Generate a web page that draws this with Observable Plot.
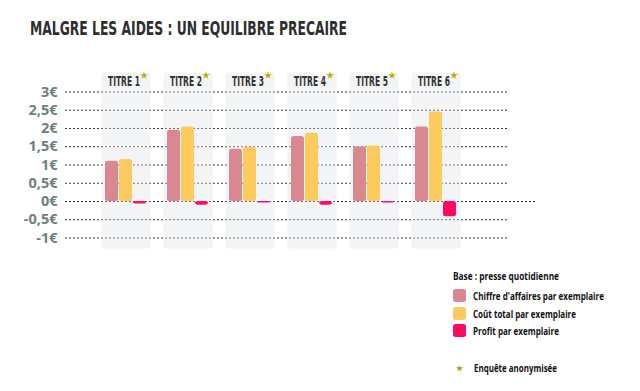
<!DOCTYPE html>
<html>
<head>
<meta charset="utf-8">
<script src="https://cdn.jsdelivr.net/npm/d3@7"></script>
<script src="https://cdn.jsdelivr.net/npm/@observablehq/plot@0.6"></script>
<style>
  html, body { margin: 0; padding: 0; background: #fff; width: 640px; height: 391px; overflow: hidden; position: relative; }
  #title { position: absolute; left: 30px; top: 19px; font-family: "DejaVu Sans", sans-serif; font-weight: bold; font-size: 19px; line-height: 19px; color: #2e2e2e; white-space: nowrap; transform-origin: left top; }
  .layer { position: absolute; left: 0; top: 50px; }
  #legend { position: absolute; left: 453px; top: 269px; font-family: "Open Sans", sans-serif; font-weight: bold; font-size: 11px; color: #111; }
  #legend .head { position: absolute; left: 0; top: 0; white-space: nowrap; line-height: 13px; }
  #legend .row { position: absolute; left: 0; white-space: nowrap; height: 13px; display: flex; align-items: center; }
  #legend .sw { width: 13px; height: 13px; border-radius: 2.5px; margin-right: 7px; flex: none; }
  #legend .star { width: 13px; text-align: center; color: #b8a400; font-size: 8px; margin-right: 8px; flex: none; }
  .fit { display: inline-block; transform-origin: left center; }
</style>
</head>
<body>
<div id="title"><span class="fit" data-w="317">MALGRE LES AIDES : UN EQUILIBRE PRECAIRE</span></div>
<div id="back" class="layer"></div>
<div id="front" class="layer"></div>
<div id="legend"></div>
<script>
const titres = ["TITRE 1", "TITRE 2", "TITRE 3", "TITRE 4", "TITRE 5", "TITRE 6"];
const series = ["Chiffre d'affaires par exemplaire", "Coût total par exemplaire", "Profit par exemplaire"];
const seriesColors = ["#d98891", "#fdca5e", "#ff0a62"];
const chiffreAffaires = [1.10, 1.95, 1.43, 1.78, 1.49, 2.04];
const coutTotal = [1.15, 2.04, 1.48, 1.87, 1.52, 2.45];
const profit = [-0.07, -0.10, -0.04, -0.10, -0.04, -0.42];
const anonymise = [true, true, true, true, true, true];
const yTicks = [3, 2.5, 2, 1.5, 1, 0.5, 0, -0.5, -1];
const yTickLabels = ["3€", "2,5€", "2€", "1,5€", "1€", "0,5€", "0€", "-0,5€", "-1€"];
const legendTitle = "Base : presse quotidienne";
const legendNote = "Enquête anonymisée";

const rows = [];
titres.forEach((t, i) => {
  rows.push({titre: t, serie: series[0], value: chiffreAffaires[i]});
  rows.push({titre: t, serie: series[1], value: coutTotal[i]});
  rows.push({titre: t, serie: series[2], value: profit[i]});
});
const cols = titres.map((t, i) => ({titre: t, star: anonymise[i]}));
const ticks = yTicks.map((v, i) => ({v, label: yTickLabels[i]}));
const gridTicks = yTicks.filter(v => v !== 0);

const common = {
  width: 640,
  height: 341,
  marginLeft: 65,
  marginRight: 132,
  marginTop: 22,
  marginBottom: 143,
  style: {background: "transparent", overflow: "visible"},
  y: {domain: [-1.288, 3.534], axis: null}
};

// Back layer: continuous dotted grid and y tick labels
const back = Plot.plot({
  ...common,
  x: {axis: null},
  marks: [
    Plot.ruleY(gridTicks, {y: d => d, stroke: "#333", strokeWidth: 1, strokeDasharray: "2,2"}),
    Plot.ruleY([0], {stroke: "#222", strokeWidth: 1, strokeDasharray: "2,2", insetRight: -29}),
    Plot.text(ticks, {y: "v", text: "label", frameAnchor: "left", textAnchor: "end", lineAnchor: "middle", dx: -8, fill: "#6e8080", fontSize: 14.5, fontWeight: 700, fontFamily: "Open Sans, sans-serif"})
  ]
});
document.getElementById("back").appendChild(back);

// Front layer: column backgrounds, grouped bars, labels
const front = Plot.plot({
  ...common,
  fx: {domain: titres, paddingInner: 0.208, paddingOuter: 0.648, align: 0.432, axis: null},
  x: {domain: series, paddingInner: 0.04, paddingOuter: 0.22, axis: null},
  color: {domain: series, range: seriesColors},
  marks: [
    Plot.frame({fill: "#dfe3e8", fillOpacity: 0.4, stroke: null, rx: 3}),
    Plot.barY(rows, {fx: "titre", x: "serie", y: "value", fill: "serie", rx: 2.5}),
    Plot.text(cols, {fx: "titre", text: "titre", frameAnchor: "top", lineAnchor: "middle", dy: 9, dx: -2, fill: "#333", fontSize: 14, fontWeight: 700, fontFamily: "DejaVu Sans, sans-serif"}),
    Plot.dot(cols.filter(d => d.star), {fx: "titre", frameAnchor: "top", dx: 18, dy: 3, symbol: "star", r: 2.4, fill: "#c2ab00", stroke: null})
  ]
});
document.getElementById("front").appendChild(front);

// squeeze column labels to the narrow width of the original face
front.querySelectorAll("text").forEach(t => {
  if (titres.includes(t.textContent)) {
    t.setAttribute("textLength", 32);
    t.setAttribute("lengthAdjust", "spacingAndGlyphs");
  }
});

// Legend
const legend = document.getElementById("legend");
const head = document.createElement("div");
head.className = "head";
head.innerHTML = `<span class="fit" data-w="106"></span>`;
head.firstChild.textContent = legendTitle;
legend.appendChild(head);
const tops = [20, 38, 55];
const widths = [131, 103, 86];
series.forEach((s, i) => {
  const row = document.createElement("div");
  row.className = "row";
  row.style.top = tops[i] + "px";
  const sw = document.createElement("div");
  sw.className = "sw";
  sw.style.background = seriesColors[i];
  row.appendChild(sw);
  const label = document.createElement("span");
  label.className = "fit";
  label.dataset.w = widths[i];
  label.textContent = s;
  row.appendChild(label);
  legend.appendChild(row);
});
const noteRow = document.createElement("div");
noteRow.className = "row";
noteRow.style.top = "92px";
const st = document.createElement("div");
st.className = "star";
st.textContent = "★";
noteRow.appendChild(st);
const nt = document.createElement("span");
nt.className = "fit";
nt.dataset.w = 83;
nt.textContent = legendNote;
noteRow.appendChild(nt);
legend.appendChild(noteRow);

document.querySelectorAll(".fit").forEach(el => {
  const w = el.getBoundingClientRect().width;
  const target = +el.dataset.w;
  if (w > 0) el.style.transform = `scaleX(${target / w})`;
});
</script>
</body>
</html>
